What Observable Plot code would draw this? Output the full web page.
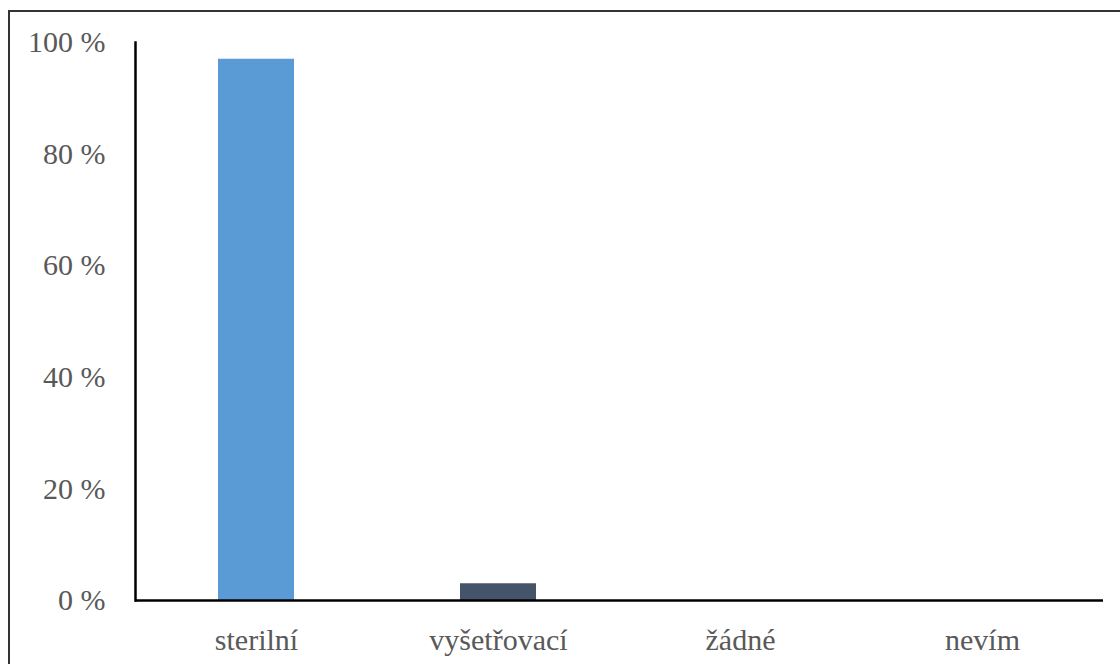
<!DOCTYPE html>
<html>
<head>
<meta charset="utf-8">
<script src="https://cdn.jsdelivr.net/npm/d3@7"></script>
<script src="https://cdn.jsdelivr.net/npm/@observablehq/plot@0.6"></script>
<style>
  html, body { margin: 0; padding: 0; background: #fff; }
  #wrap { position: relative; width: 1120px; height: 664px; overflow: hidden; }
  #frame { position: absolute; left: 8px; top: 10px; width: 1200px; height: 800px;
           border-top: 2px solid #333; border-left: 2px solid #333; box-sizing: border-box; pointer-events: none; }
  #chart { position: absolute; left: 0; top: 0; }
</style>
</head>
<body>
<div id="wrap"><div id="chart"></div><div id="frame"></div></div>
<script>
const categories = ["sterilní", "vyšetřovací", "žádné", "nevím"];
const values = [97, 3, 0, 0];
const colors = ["#5B9BD5", "#44546A", "#A5A5A5", "#ED7D31"];
const yTicks = [0, 20, 40, 60, 80, 100];

const data = categories.map((c, i) => ({category: c, value: values[i], color: colors[i]}));
const serif = "Liberation Serif";

const chart = Plot.plot({
  width: 1120,
  height: 664,
  marginLeft: 135,
  marginRight: 17,
  marginTop: 42,
  marginBottom: 64,
  style: {fontFamily: serif, fontSize: "30px", background: "transparent"},
  x: {domain: categories, paddingInner: 0.686, paddingOuter: 0.343, label: null},
  y: {domain: [0, 100], label: null},
  marks: [
    Plot.barY(data, {x: "category", y: "value", fill: "color"}),
    Plot.axisY({ticks: yTicks, tickFormat: d => d + " %", tickSize: 0, tickPadding: 30, fill: "#595959", fontSize: 30, fontFamily: serif}),
    Plot.axisX({tickSize: 0, tickPadding: 28, fill: "#595959", fontSize: 30, fontFamily: serif}),
    Plot.frame({anchor: "left", stroke: "#000", strokeWidth: 2.5}),
    Plot.ruleY([0], {stroke: "#000", strokeWidth: 2.5})
  ]
});
d3.select(chart).selectAll("text, g").style("font-family", "'Liberation Serif', 'Times New Roman', serif");
document.getElementById("chart").appendChild(chart);
</script>
</body>
</html>
